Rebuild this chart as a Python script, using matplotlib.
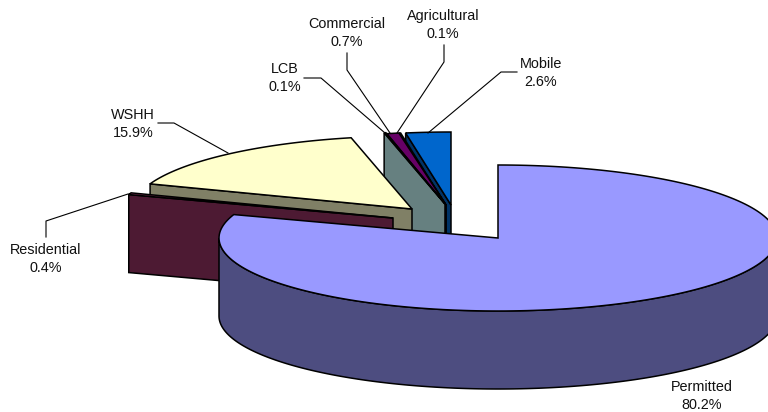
import numpy as np
import matplotlib
matplotlib.use('Agg')
import matplotlib.pyplot as plt
from matplotlib.patches import Polygon

plt.rcParams['font.family'] = ['Liberation Sans', 'DejaVu Sans']

# data, clockwise from 12 o'clock
categories = ['Permitted', 'Residential', 'WSHH', 'LCB', 'Commercial', 'Agricultural', 'Mobile']
shares = [80.2, 0.4, 15.9, 0.1, 0.7, 0.1, 2.6]
top_colors = ['#9999FF', '#993366', '#FFFFCC', '#CCFFFF', '#660066', '#FF8080', '#0066CC']
wall_colors = ['#4D4D80', '#4D1A33', '#808066', '#668080', '#330033', '#804040', '#003366']

# layout in image pixels
# where each exploded slice has its point
tips = [(498, 238), (393, 218), (412, 209), (445, 204), (446, 205), (446, 205), (451, 205)]
rx, ry = 279, 73
depth = 78

label_xy = [(702, 396), (46, 259), (133, 124), (285, 78), (347, 33), (443, 25), (541, 73)]
leaders = [
    None,
    [(46, 237), (46, 221), (128, 194)],
    [(158, 123), (174, 123), (228, 153)],
    [(304, 78), (321, 78), (385, 133)],
    [(347, 53), (347, 70), (390, 133)],
    [(444, 45), (444, 62), (397, 133)],
    [(517, 72), (501, 72), (428, 133)],
]


def rim(cx, cy, a_from, a_to, n=200):
    t = np.radians(np.linspace(a_from, a_to, n))
    return np.column_stack([cx + rx * np.cos(t), cy - ry * np.sin(t)])


fig = plt.figure(figsize=(7.68, 4.12), dpi=100)
ax = fig.add_axes([0, 0, 1, 1])
ax.set_xlim(0, 768)
ax.set_ylim(412, 0)
ax.axis('off')

# start and end angle of every slice
ends = 90 - np.cumsum(shares) * 3.6
starts = np.concatenate([[90], ends[:-1]])

# back to front, Permitted last
for i in range(len(shares) - 1, -1, -1):
    cx, cy = tips[i]
    a1, a2 = starts[i], ends[i]
    down = np.array([0, depth])
    if i > 0:
        # flat wall on the side facing the viewer, that is the slice's end edge
        edge = np.array([[cx, cy], rim(cx, cy, a1, a1, 1)[0]])
        wall = np.vstack([edge, edge[::-1] + down])
        ax.add_patch(Polygon(wall, fc=wall_colors[i], ec='black', lw=1.1, joinstyle='miter'))
    else:
        # round front wall of the big slice
        arc = rim(cx, cy, -180, 0)
        wall = np.vstack([arc, arc[::-1] + down])
        ax.add_patch(Polygon(wall, fc=wall_colors[i], ec='black', lw=1.1))
    top = np.vstack([[cx, cy], rim(cx, cy, a1, a2)])
    ax.add_patch(Polygon(top, fc=top_colors[i], ec='black', lw=1.1, joinstyle='miter'))

for i, name in enumerate(categories):
    x, y = label_xy[i]
    ax.text(x, y, f'{name}\n{shares[i]:.1f}%', ha='center', va='center', fontsize=10.4,
            color='#111111', linespacing=1.45)
    if leaders[i] is not None:
        pts = np.array(leaders[i])
        ax.plot(pts[:, 0], pts[:, 1], color='black', lw=0.8)

fig.savefig('out.png', dpi=100)
